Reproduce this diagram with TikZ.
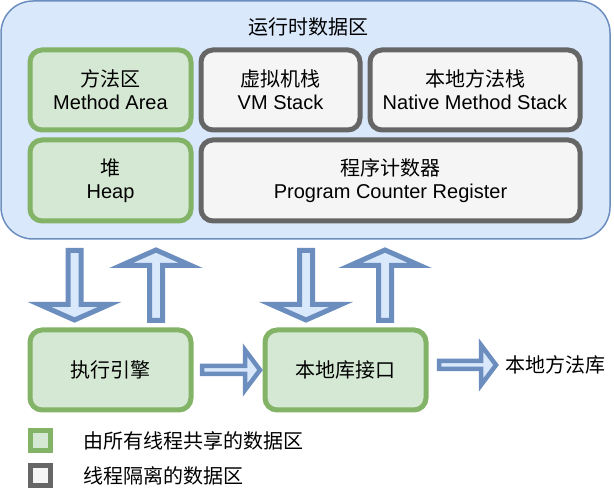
\documentclass[tikz,border=0pt]{standalone}
\usepackage{fontspec}
\setmainfont{Liberation Sans}
\newfontfamily\cjk{Noto Sans CJK SC}
\usetikzlibrary{calc,positioning}

\definecolor{blueline}{HTML}{6C8EBF}
\definecolor{bluefill}{HTML}{DAE8FC}
\definecolor{greenline}{HTML}{82B366}
\definecolor{greenfill}{HTML}{D5E8D4}
\definecolor{greyline}{HTML}{666666}
\definecolor{greyfill}{HTML}{F5F5F5}

\tikzset{
  regionbox/.style={draw, rounded corners=12pt, line width=5pt, align=center,
    minimum height=80pt, inner sep=0pt, outer sep=0pt},
  sharedbox/.style={regionbox, draw=greenline, fill=greenfill},
  privatebox/.style={regionbox, draw=greyline, fill=greyfill},
  flexarrow/.style={draw=blueline, fill=bluefill, line join=miter},
  vflex/.style={flexarrow, line width=5pt},
  hflex/.style={flexarrow, line width=4.5pt},
  legendbox/.style={draw, line width=5pt, minimum size=20pt, inner sep=0pt, outer sep=0pt}
}

% style, shaft half width, head half width, head length, from, to
\newcommand\flexarrow[6]{%
  \draw[#1] let \p1=(#5), \p2=(#6),
      \n1={atan2(\y2-\y1,\x2-\x1)}, \n2={veclen(\x2-\x1,\y2-\y1)} in
    [shift={(\p1)}, rotate=\n1]
    (0pt,-#2pt) -- ({\n2-#4pt},-#2pt) -- ({\n2-#4pt},-#3pt) -- (\n2,0pt)
    -- ({\n2-#4pt},#3pt) -- ({\n2-#4pt},#2pt) -- (0pt,#2pt) -- cycle;
}

\begin{document}
\begin{tikzpicture}[x=1pt, y=-1pt, every node/.style={font=\fontsize{20}{23}\selectfont}]
\useasboundingbox (0,0) rectangle (614,494);

\node[draw=blueline, fill=bluefill, line width=1.5pt, rounded corners=32pt,
  minimum width=609pt, minimum height=238pt, outer sep=0pt] (rtda) at (305.5,120) {};
\node (title) at (308,27) {\cjk 运行时数据区};

\node[sharedbox, minimum width=161pt] (ma) at (110.5,90) {{\cjk 方法区}\\Method Area};
\node[privatebox, minimum width=159pt] (vms) at (280.5,90) {{\cjk 虚拟机栈}\\VM Stack};
\node[privatebox, minimum width=210pt] (nms) at (475,90) {{\cjk 本地方法栈}\\Native Method Stack};
\node[sharedbox, minimum width=161pt, minimum height=81pt] (heap) at (110.5,180.5) {{\cjk 堆}\\Heap};
\node[privatebox, minimum width=379pt, minimum height=81pt] (pcr) at (390.5,180.5)
  {{\cjk 程序计数器}\\Program Counter Register};

\node[sharedbox, minimum width=161pt] (engine) at (110.5,370) {\cjk 执行引擎};
\node[sharedbox, minimum width=161pt] (jni) at (345.5,370) {\cjk 本地库接口};
\node[anchor=west, inner sep=4pt] (lib) at (501,365) {\cjk 本地方法库};

\flexarrow{vflex}{6.5}{35}{15.5}{$(engine.north)+(-36,-79.5)$}{$(engine.north)+(-36,-10)$}
\flexarrow{vflex}{6.5}{35}{15.5}{$(engine.north)+(45.5,-9.5)$}{$(engine.north)+(45.5,-80)$}
\flexarrow{vflex}{6.5}{35}{15.5}{$(jni.north)+(-39.5,-79.5)$}{$(jni.north)+(-39.5,-10)$}
\flexarrow{vflex}{6.5}{35}{15.5}{$(jni.north)+(39.5,-9.5)$}{$(jni.north)+(39.5,-80)$}
\flexarrow{hflex}{4}{20}{15}{$(engine.east)+(11,0)$}{$(jni.west)+(-5,0)$}
\flexarrow{hflex}{4}{20}{15}{$(jni.east |- lib.west)+(13,0)$}{$(lib.west)+(-5,0)$}

\node[legendbox, draw=greenline, fill=greenfill] (keyshared) at (40,441) {};
\node[right=29pt of keyshared, inner sep=4pt] (keysharedtext) {\cjk 由所有线程共享的数据区};
\node[legendbox, draw=greyline, fill=greyfill] (keyprivate) at (40,475.5) {};
\node[right=29pt of keyprivate, inner sep=4pt] (keyprivatetext) {\cjk 线程隔离的数据区};
\end{tikzpicture}
\end{document}
